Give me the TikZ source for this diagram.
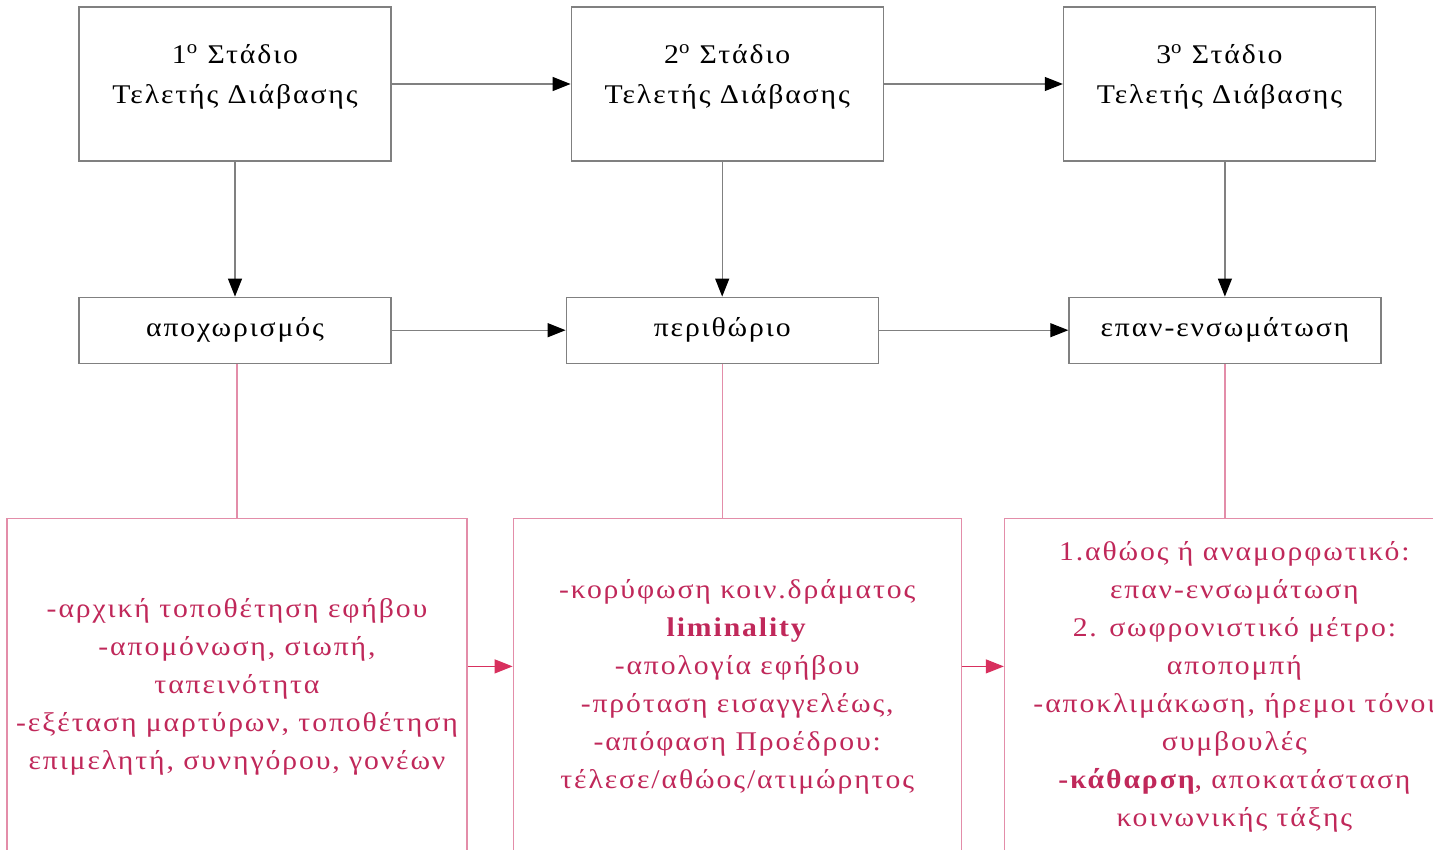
\documentclass[tikz,border=0pt]{standalone}
\usepackage{fontspec}
\setmainfont{Liberation Serif}[FakeStretch=1.1,LetterSpace=7]
\usetikzlibrary{positioning}
\usetikzlibrary{arrows.meta}
\definecolor{rosetext}{HTML}{C0285A}
\definecolor{roseline}{HTML}{E38DA9}
\definecolor{rosearrow}{HTML}{D8305E}
\definecolor{greyline}{HTML}{808080}

\begin{document}
\begin{tikzpicture}[->,>={Triangle[length=9pt,width=7pt]},node distance=89.5pt,
	line width=0.6pt,
	stage node/.style={draw=greyline,minimum width=156pt,minimum height=77pt,align=center,
		font=\fontsize{13.5pt}{20pt}\selectfont,text depth=10pt},
	phase node/.style={draw=greyline,minimum width=156pt,minimum height=33pt,
		font=\fontsize{13.5pt}{20pt}\selectfont},
	detail node/.style={draw=roseline,text=rosetext,minimum width=224pt,minimum height=168pt,
		align=center,font=\fontsize{13.5pt}{19pt}\selectfont}]
	
	\useasboundingbox (0,0) rectangle (716.5pt,-425pt);
	\clip (0,0) rectangle (716.5pt,-425pt);
	
	\node[stage node] (top1) at (117.5pt,-42pt) {1\textsuperscript{o} Στάδιο\\Τελετής Διάβασης};
	\node[stage node] (top2) [right=of top1] {2\textsuperscript{o} Στάδιο\\Τελετής Διάβασης};
	\node[stage node] (top3) [right=of top2] {3\textsuperscript{o} Στάδιο\\Τελετής Διάβασης};
	
	\node[phase node] (mid1) [below=67.5pt of top1] {αποχωρισμός};
	\node[phase node] (mid2) [below=67.5pt of top2,xshift=-2.5pt] {περιθώριο};
	\node[phase node] (mid3) [below=67.5pt of top3,xshift=2.75pt] {επαν-ενσωμάτωση};
	
	\node[detail node,minimum width=230pt] (bot1) [below=77pt of mid1,xshift=1pt]
		{-αρχική τοποθέτηση εφήβου\\-απομόνωση, σιωπή,\\ταπεινότητα\\
		-εξέταση μαρτύρων, τοποθέτηση\\επιμελητή, συνηγόρου, γονέων};
	\node[detail node] (bot2) [right=22.5pt of bot1]
		{-κορύφωση κοιν.δράματος\\\textbf{liminality}\\-απολογία εφήβου\\
		-πρόταση εισαγγελέως,\\-απόφαση Προέδρου:\\τέλεσε/αθώος/ατιμώρητος};
	\node[detail node,minimum width=230pt] (bot3) [right=21pt of bot2]
		{1.αθώος ή αναμορφωτικό:\\επαν-ενσωμάτωση\\2. σωφρονιστικό μέτρο:\\αποπομπή\\
		-αποκλιμάκωση, ήρεμοι τόνοι\\συμβουλές\\\textbf{-κάθαρση}, αποκατάσταση\\κοινωνικής τάξης};
	
	\path[every edge/.append style={greyline,-{Triangle[length=9pt,width=7pt,black]}}]
	(top1) edge (top2)
	(top2) edge (top3)
	(mid1) edge (mid2)
	(mid2) edge (mid3)
	(top1.south) edge (top1.south |- mid1.north)
	(mid2.north |- top2.south) edge (mid2.north)
	(mid3.north |- top3.south) edge (mid3.north);
	
	\path[every edge/.append style={roseline,-}]
	(bot1.north |- mid1.south) edge (bot1.north)
	(mid2.south) edge (mid2.south |- bot2.north)
	(mid3.south) edge (mid3.south |- bot3.north);
	
	\path[every edge/.append style={rosearrow}]
	([yshift=10pt]bot1.east) edge ([yshift=10pt]bot1.east -| bot2.west)
	([yshift=10pt]bot2.east) edge ([yshift=10pt]bot2.east -| bot3.west);
\end{tikzpicture}
\end{document}
